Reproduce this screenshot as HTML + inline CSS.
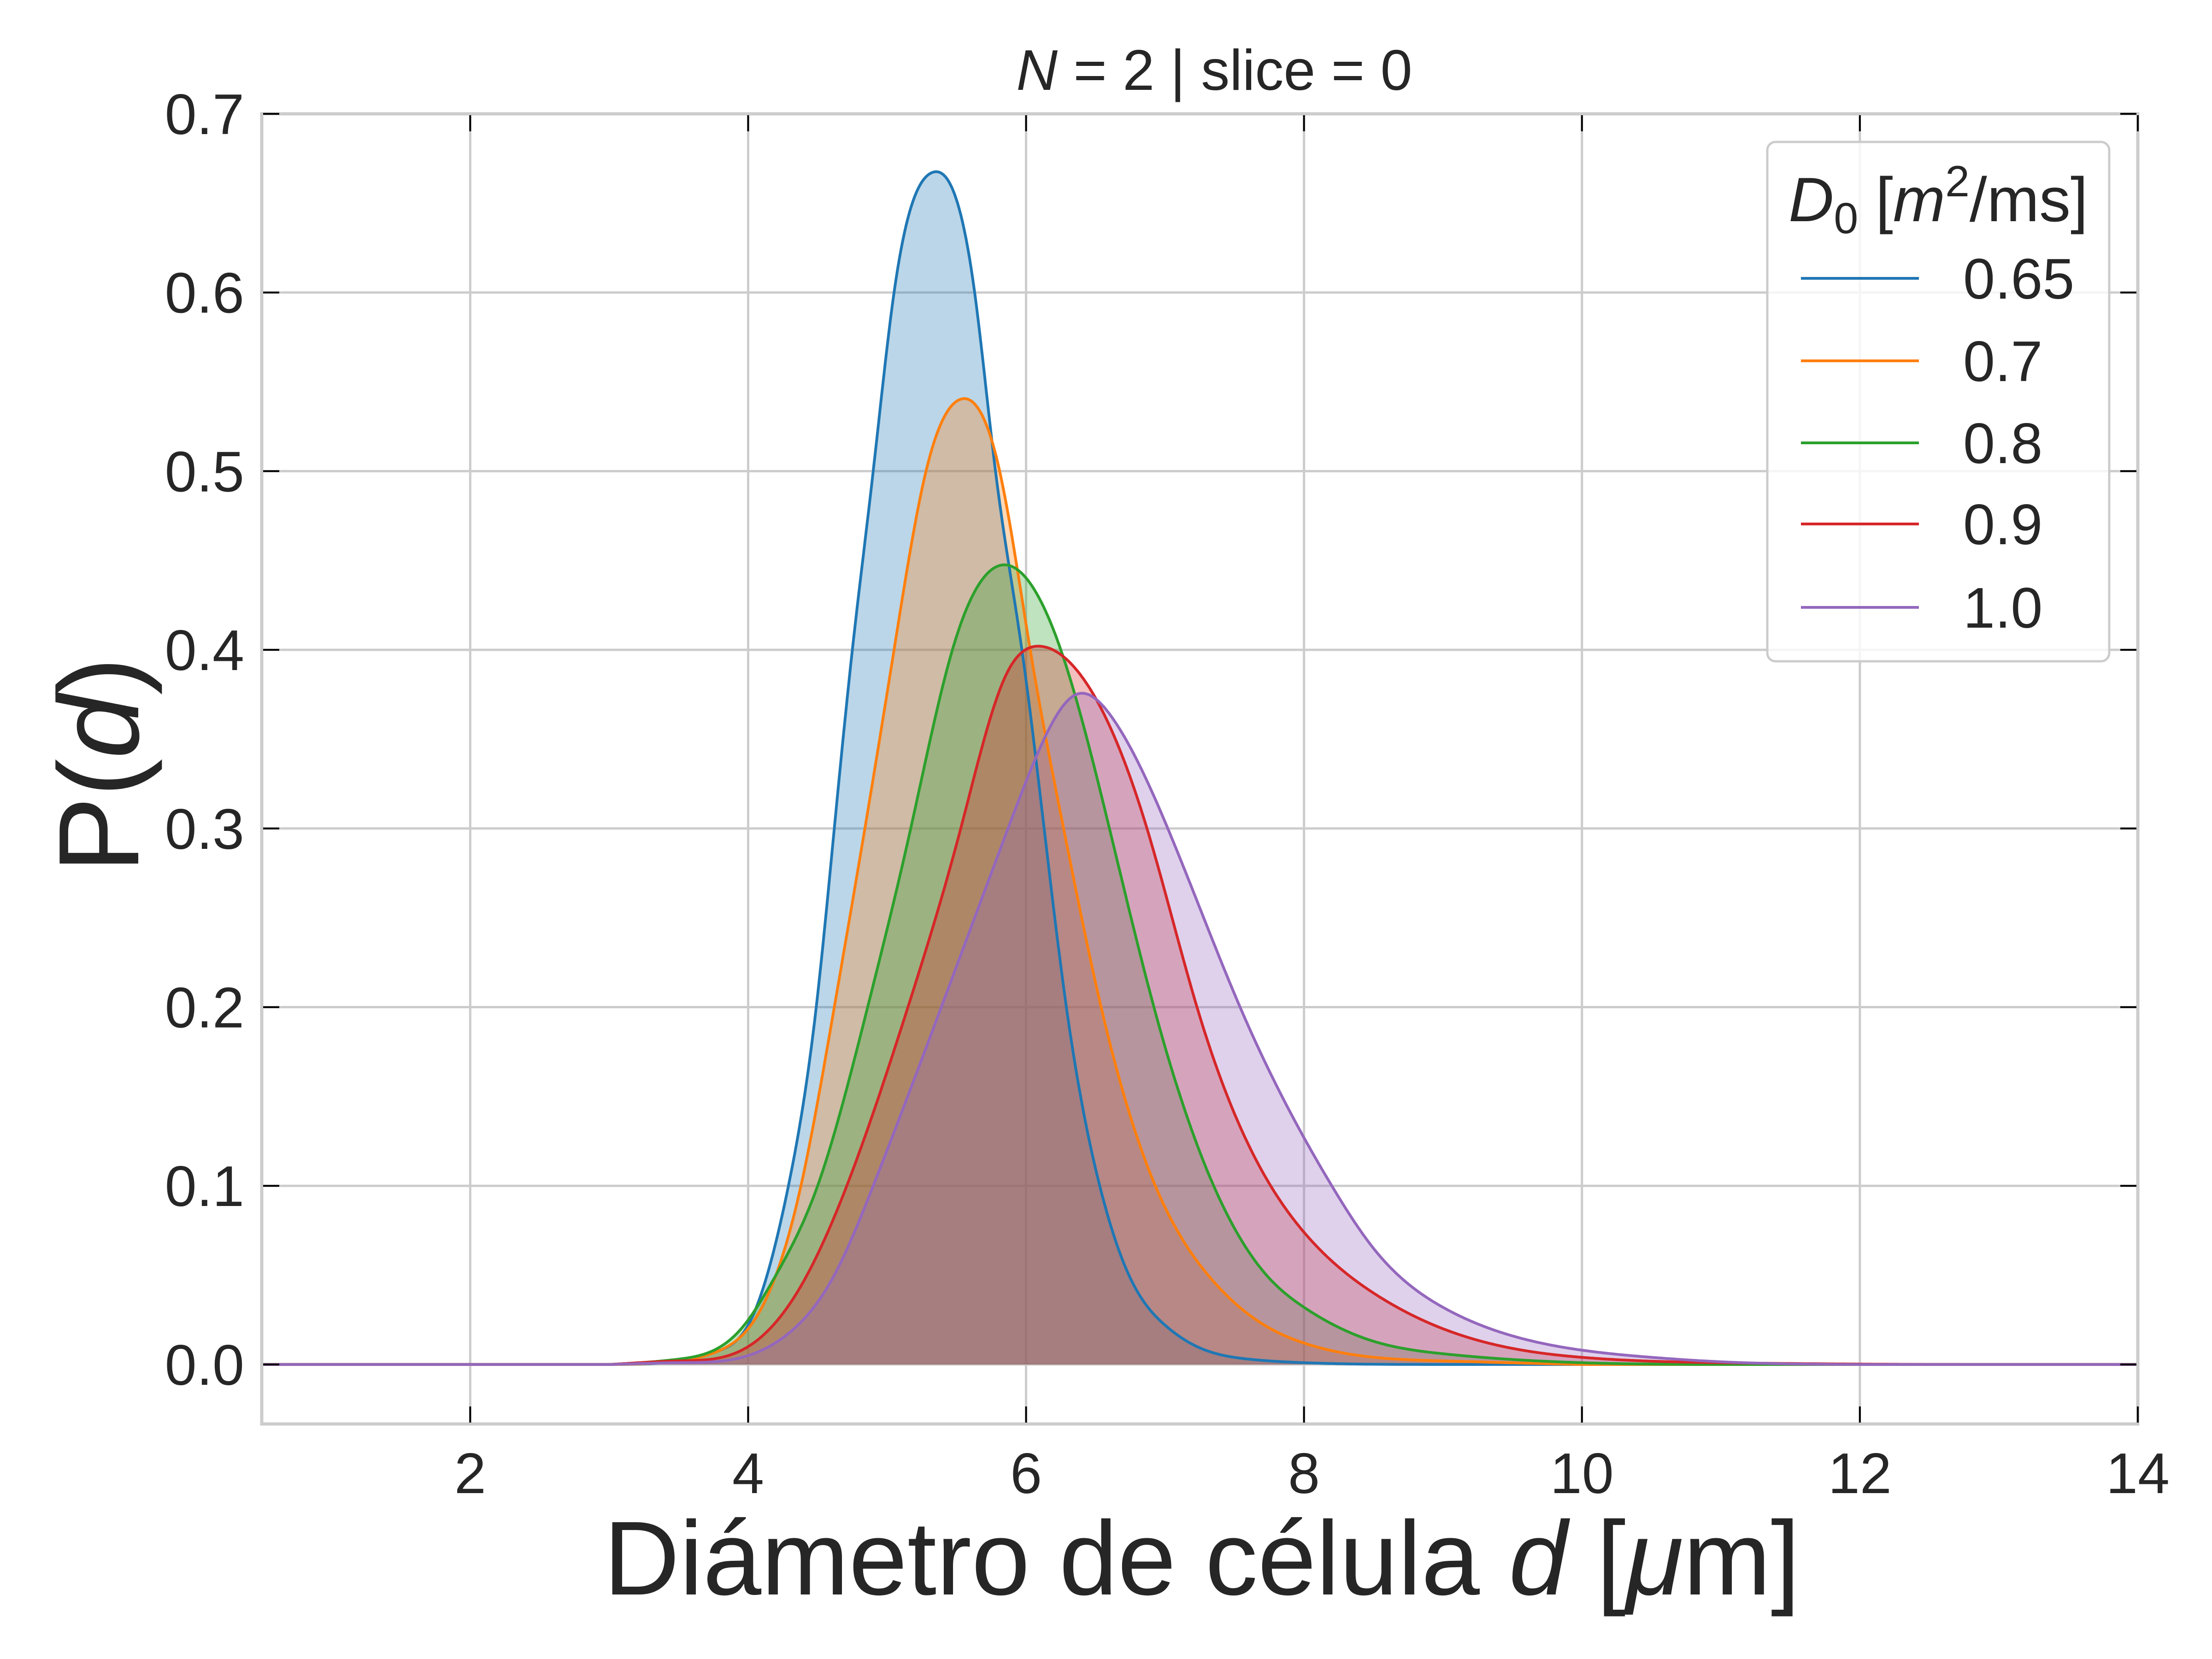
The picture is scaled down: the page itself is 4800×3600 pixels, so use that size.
<!DOCTYPE html>
<html><head><meta charset="utf-8">
<style>
html,body{margin:0;padding:0;background:#fff;}
svg{display:block;}
text{font-family:"Liberation Sans",Arial,sans-serif;fill:#262626;}
</style></head>
<body>
<svg id="chart" width="4800" height="3600" viewBox="0 0 4800 3600" xmlns="http://www.w3.org/2000/svg">
<rect x="0" y="0" width="4800" height="3600" fill="#fff"/>
<g id="grid"></g>
<g id="fills"></g>
<g id="lines"></g>
<g id="axes"></g>
<text x="2635" y="195" font-size="124" text-anchor="middle"><tspan font-style="italic">N</tspan> = 2 | slice = 0</text>
<text x="2608" y="3460" font-size="228" text-anchor="middle">Diámetro de célula <tspan font-style="italic">d</tspan> [<tspan font-style="italic">μ</tspan>m]</text>
<text transform="translate(300,1660) rotate(-90)" font-size="248" text-anchor="middle">P(<tspan font-style="italic">d</tspan>)</text>
<g id="legend"></g>
</svg>
<script>
const xTicks = [2,4,6,8,10,12,14];
const yTicks = [0.0,0.1,0.2,0.3,0.4,0.5,0.6,0.7];
const yTickLabels = ["0.0","0.1","0.2","0.3","0.4","0.5","0.6","0.7"];
const seriesNames = ["0.65","0.7","0.8","0.9","1.0"];
const seriesColors = ["#1f77b4","#ff7f0e","#2ca02c","#d62728","#9467bd"];

const x065 = [0.5,3.0,3.5,3.8,4.0,4.29,4.49,4.62,4.75,4.90,5.05,5.32,5.63,5.78,5.97,6.13,6.29,6.53,6.74,7.0,7.23,7.6,8.0,9.0,14];
const y065 = [0,0,0.002,0.008,0.022,0.1,0.2,0.3,0.4,0.5,0.6,0.667,0.6,0.5,0.4,0.3,0.2,0.1,0.05,0.022,0.01,0.003,0.001,0,0];
const x07 = [0.5,3.0,3.5,3.8,4.0,4.2,4.38,4.62,4.84,5.05,5.28,5.52,5.81,6.03,6.27,6.54,6.93,7.31,7.76,8.0,9.0,10.0,14];
const y07 = [0,0,0.002,0.008,0.02,0.05,0.1,0.2,0.3,0.4,0.5,0.540,0.5,0.4,0.3,0.2,0.1,0.05,0.02,0.012,0.002,0,0];
const x08 = [0.5,3.0,3.5,3.95,4.2,4.5,4.86,5.17,5.47,5.83,6.25,6.60,6.92,7.35,7.73,8.0,8.5,9.0,10.0,11.0,14];
const y08 = [0,0,0.003,0.02,0.05,0.1,0.2,0.3,0.4,0.4475,0.4,0.3,0.2,0.1,0.05,0.032,0.013,0.006,0.001,0,0];
const x09 = [0.5,3.0,3.5,4.0,4.35,4.71,5.15,5.53,5.85,6.10,6.35,6.87,7.23,7.76,8.0,8.5,9.0,9.5,10.0,11.0,14];
const y09 = [0,0,0.002,0.01,0.04,0.1,0.2,0.3,0.385,0.402,0.39,0.3,0.2,0.1,0.074,0.04,0.02,0.009,0.004,0.001,0];
const x10 = [0.5,3.0,3.5,4.0,4.3,4.62,4.9,5.39,5.87,6.1,6.36,6.62,7.02,7.54,8.2,8.5,9.0,9.5,10.0,10.5,11.0,12.0,14];
const y10 = [0,0,0.001,0.005,0.018,0.05,0.1,0.2,0.3,0.345,0.375,0.362,0.3,0.2,0.1,0.065,0.032,0.016,0.008,0.004,0.0015,0,0];
const seriesX = [x065,x07,x08,x09,x10];
const seriesY = [y065,y07,y08,y09,y10];

const L=568,R=4639,T=247,B=3090;
const XMIN=0.5,XMAX=14,YMIN=-0.0333,YMAX=0.7;
const sx=v=>L+(v-XMIN)/(XMAX-XMIN)*(R-L);
const sy=v=>B-(v-YMIN)/(YMAX-YMIN)*(B-T);
const NS="http://www.w3.org/2000/svg";
function mk(tag,parent,attrs){const e=document.createElementNS(NS,tag);for(const k in attrs)e.setAttribute(k,attrs[k]);parent.appendChild(e);return e;}

const grid=document.getElementById('grid');
xTicks.forEach(t=>{const e=mk('line',grid,{x1:sx(t),x2:sx(t),y1:T,y2:B,stroke:'#cccccc','stroke-width':5});

});
yTicks.forEach(t=>{const e=mk('line',grid,{x1:L,x2:R,y1:sy(t),y2:sy(t),stroke:'#cccccc','stroke-width':5});

});

// natural cubic spline through the data points (rendering only)
function splinePts(xs,ys){
  const n=xs.length,h=[],a=[],b=[],c=[],r=[],M=new Array(n).fill(0);
  for(let i=0;i<n-1;i++)h.push(xs[i+1]-xs[i]);
  for(let i=1;i<n-1;i++){a[i]=h[i-1];b[i]=2*(h[i-1]+h[i]);c[i]=h[i];r[i]=6*((ys[i+1]-ys[i])/h[i]-(ys[i]-ys[i-1])/h[i-1]);}
  for(let i=2;i<n-1;i++){const w=a[i]/b[i-1];b[i]-=w*c[i-1];r[i]-=w*r[i-1];}
  for(let i=n-2;i>=1;i--){M[i]=(r[i]-(i<n-2?c[i]*M[i+1]:0))/b[i];}
  const out=[];
  for(let i=0;i<n-1;i++){
    const steps=Math.max(2,Math.ceil(h[i]*80));
    for(let s=0;s<steps;s++){
      const x=xs[i]+h[i]*s/steps,A=(xs[i+1]-x)/h[i],B2=(x-xs[i])/h[i];
      const v=A*ys[i]+B2*ys[i+1]+((A*A*A-A)*M[i]+(B2*B2*B2-B2)*M[i+1])*h[i]*h[i]/6;
      out.push([sx(x),sy(Math.max(0,v))]);
    }
  }
  out.push([sx(xs[n-1]),sy(ys[n-1])]);
  return out;
}
function pathFor(xs,ys){
  return 'M'+splinePts(xs,ys).map(p=>p[0].toFixed(1)+','+p[1].toFixed(1)).join(' L');
}
const fills=document.getElementById('fills'),lines=document.getElementById('lines');
seriesX.forEach((xs,i)=>{
  const d=pathFor(xs,seriesY[i]);
  const f=mk('path',fills,{d:d+' L'+sx(xs[xs.length-1])+','+sy(0)+' L'+sx(xs[0])+','+sy(0)+' Z',fill:seriesColors[i],'fill-opacity':0.3,stroke:'none'});
  
  
});
seriesX.forEach((xs,i)=>{
  const l=mk('path',lines,{d:pathFor(xs,seriesY[i]),fill:'none',stroke:seriesColors[i],'stroke-width':6,'stroke-linejoin':'round'});
  
  
});

const axes=document.getElementById('axes');
const sp=mk('rect',axes,{x:L,y:T,width:R-L,height:B-T,fill:'none',stroke:'#cccccc','stroke-width':7});


xTicks.forEach(t=>{
  const a=mk('line',axes,{x1:sx(t),x2:sx(t),y1:B-3,y2:B-38,stroke:'#000','stroke-width':4});
  
  
  const b=mk('line',axes,{x1:sx(t),x2:sx(t),y1:T+3,y2:T+38,stroke:'#000','stroke-width':4});
  
  
  const tx=mk('text',axes,{x:sx(t),y:3240,'font-size':124,'text-anchor':'middle'});
  tx.textContent=String(t);
  
  
});
yTicks.forEach((t,i)=>{
  const a=mk('line',axes,{x1:L+3,x2:L+38,y1:sy(t),y2:sy(t),stroke:'#000','stroke-width':4});
  
  
  const b=mk('line',axes,{x1:R-3,x2:R-38,y1:sy(t),y2:sy(t),stroke:'#000','stroke-width':4});
  
  
  const tx=mk('text',axes,{x:530,y:sy(t)+44,'font-size':124,'text-anchor':'end'});
  tx.textContent=yTickLabels[i];
  
  
});

const lg=document.getElementById('legend');
const box=mk('rect',lg,{x:3835,y:308,width:742,height:1127,rx:18,fill:'#fff','fill-opacity':0.8,stroke:'#cccccc','stroke-width':5});


const lt=mk('text',lg,{x:4206,y:480,'font-size':136,'text-anchor':'middle'});
lt.innerHTML='<tspan font-style="italic">D</tspan><tspan font-size="95" dy="26">0</tspan><tspan dy="-26"> [</tspan><tspan font-style="italic">m</tspan><tspan font-size="95" dy="-54">2</tspan><tspan dy="54">/ms]</tspan>';


const ly=[604,783,961,1137,1318];
seriesNames.forEach((n,i)=>{
  const l=mk('line',lg,{x1:3908,x2:4164,y1:ly[i],y2:ly[i],stroke:seriesColors[i],'stroke-width':6});
  
  
  const t=mk('text',lg,{x:4260,y:ly[i]+44,'font-size':124});
  t.textContent=n;
  
  
});
</script>
</body></html>
